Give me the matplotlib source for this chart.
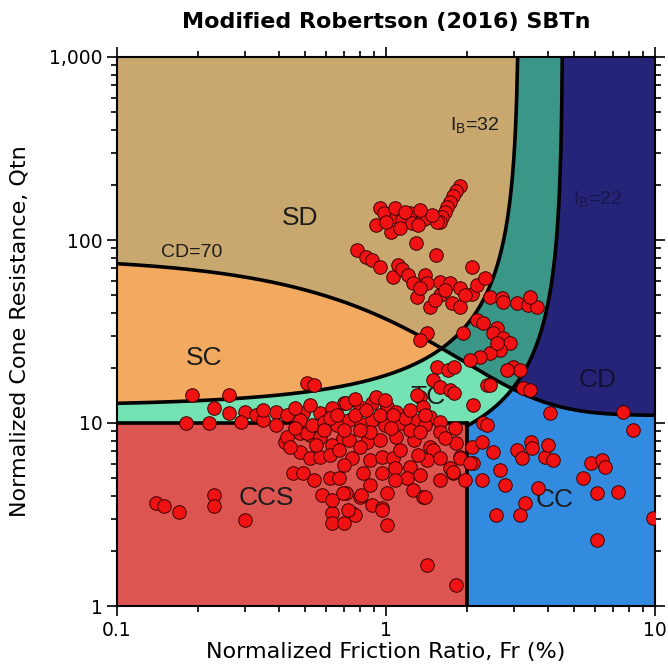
import numpy as np
import matplotlib.pyplot as plt
from matplotlib.colors import ListedColormap, BoundaryNorm
from matplotlib.ticker import FixedLocator, FixedFormatter, NullFormatter

plt.rcParams['font.family'] = 'DejaVu Sans'
plt.rcParams['mathtext.fontset'] = 'custom'
plt.rcParams['mathtext.rm'] = 'Liberation Sans'

# Robertson (2016) boundary values, as labelled on the chart
CD_LIMIT = 70
IB_SAND = 32
IB_CLAY = 22
Q_CCS = 10
FR_CCS = 2

zone_names = ['SD', 'SC', 'TD', 'TC', 'CD', 'CC', 'CCS']
zone_colors = ['#C9A86F', '#F1AA60', '#3A9787', '#74E2B3', '#262479', '#338BE0', '#DC5550']

# CPT data: normalized friction ratio Fr (%) and normalized cone resistance Qtn
fr = [1.88, 1.82, 1.78, 1.73, 1.68, 1.66, 1.61, 1.59, 0.95, 0.98, 1.09, 1.15, 1.23, 1.25,
      1.36, 1.41, 1.55, 0.92, 1.04, 1.13, 1.31, 1.29, 1.54, 2.09,
      1.08, 1.18, 1.48, 1.00, 1.34,
      0.78, 0.84, 0.89, 0.95, 1.06, 1.11, 1.15, 1.21, 1.26, 1.40, 1.42, 1.59, 1.73, 1.88,
      2.09, 2.18, 2.33, 1.30, 1.46, 1.59, 1.76, 1.88, 2.44, 2.70, 3.07, 3.37, 3.64, 3.43,
      1.34, 1.66, 1.97, 1.52,
      2.72, 1.42, 1.34, 1.93, 2.18, 2.29, 2.59, 2.50, 2.72, 2.89, 2.65, 2.44, 2.24, 2.05,
      2.59, 2.97, 3.15, 2.82, 1.55, 1.70, 1.79, 1.50, 1.59, 1.73, 1.79, 1.34, 1.37, 2.38,
      2.10, 1.46, 3.23, 3.43, 4.07, 1.01, 2.29,
      0.51, 0.54, 0.26, 0.19, 0.23, 0.26, 0.30, 0.33, 0.39, 0.43, 0.49, 0.57, 0.63, 0.70,
      0.22, 0.18, 0.42, 0.48, 0.52, 0.57, 0.63, 0.69, 0.48, 0.52, 0.57, 0.62, 0.45, 0.49,
      0.62, 0.67, 0.43, 0.23, 0.23, 0.14, 0.15, 0.17, 0.30,
      0.63, 0.71, 0.80, 0.89, 1.01, 1.09, 0.92, 1.30, 0.51, 0.73, 0.85, 0.95, 1.09, 1.27,
      1.46, 1.50, 1.82, 2.09, 0.75, 0.87, 0.97, 1.06, 1.23, 1.42, 1.73, 1.88, 2.10, 0.82,
      0.97, 1.20, 1.78, 0.71, 0.80, 1.01, 1.26, 1.37, 0.63, 0.75, 0.89, 0.97,
      0.58, 0.63, 0.69, 0.81, 0.97, 1.40, 0.63, 0.70, 0.77, 0.72, 1.01, 1.42, 1.82,
      0.48, 0.53, 0.59, 0.66, 0.73, 0.81, 0.89, 0.99, 1.13, 1.28, 1.40, 1.59, 1.80, 0.46,
      0.70, 0.87, 1.23, 1.59, 0.62, 0.77, 0.95, 1.18, 0.35, 0.39, 0.29,
      0.35, 0.46, 0.52, 0.66, 0.84, 1.06, 1.23, 1.40, 0.77, 0.99,
      0.44, 0.55, 0.59, 0.80, 1.04, 1.34, 1.66, 0.67, 0.80, 1.13, 1.31, 1.59, 0.70, 1.08,
      1.34, 1.59, 0.54, 0.87, 1.08,
      2.44, 2.38, 7.6, 8.3, 2.27, 2.49, 3.07, 3.20, 3.46, 3.49, 3.90, 3.99, 4.18, 1.88,
      2.05, 1.78, 1.97, 2.65, 2.27, 2.77, 5.4, 5.8, 6.35, 6.52, 3.66, 3.29, 3.15, 2.57,
      6.1, 7.3, 9.8, 6.1]
qtn = [197, 185, 174, 162, 152, 142, 133, 125, 149, 140, 133, 129, 140, 124,
       129, 132, 125, 121, 111, 117, 121, 96, 83, 71,
       149, 142, 137, 125, 146,
       88, 81, 78, 71, 63, 73, 69, 64, 58, 64, 58, 59, 58, 55,
       51, 57, 62, 49, 43, 50, 45, 43, 49, 48, 45, 44, 43, 49,
       55, 53, 50, 47,
       46, 31, 28.4, 31, 36.5, 35, 33, 31, 29, 27.4, 25, 24, 23, 22,
       27.4, 20.2, 19.5, 19.5, 20.2, 19.5, 20.2, 17.2, 15.7, 15.1, 14.5, 13.9, 12.3, 16.1,
       12.5, 10.8, 15.5, 15.1, 11.3, 12.2, 10.0,
       16.5, 16.1, 14.2, 14.2, 12.1, 11.3, 11.5, 11.1, 11.5, 11.1, 11.3, 11.3, 11.5, 12.9,
       10.0, 10.0, 7.9, 8.8, 8.6, 8.4, 7.6, 8.3, 6.9, 6.4, 6.5, 6.7, 5.3, 5.3,
       5.0, 5.0, 8.4, 4.04, 3.5, 3.65, 3.5, 3.27, 2.95,
       12.1, 12.9, 12.3, 12.9, 12.3, 11.5, 13.8, 14.2, 8.8, 8.07, 7.9, 8.07, 8.4, 8.07,
       7.4, 7.1, 7.8, 7.4, 6.45, 6.28, 6.5, 6.45, 5.75, 6.28, 5.7, 6.5, 6.05, 5.3,
       5.3, 5.0, 5.3, 4.15, 3.95, 4.15, 4.3, 3.95, 3.22, 3.22, 3.56, 3.43,
       4.04, 3.8, 4.15, 4.04, 3.35, 3.95, 2.84, 2.84, 3.14, 3.35, 2.77, 1.67, 1.30,
       10.4, 9.75, 10.1, 9.75, 10.4, 9.9, 10.4, 9.75, 10.0, 10.4, 9.75, 10.1, 9.4, 9.4,
       9.16, 8.9, 9.16, 8.9, 10.7, 11.1, 11.1, 10.7, 10.4, 9.75, 10.1,
       11.8, 12.1, 12.5, 11.1, 11.8, 11.1, 11.8, 11.1, 13.6, 13.4,
       7.4, 7.6, 9.16, 9.16, 9.4, 8.9, 8.3, 7.12, 7.35, 7.12, 6.69, 6.45, 5.9, 5.7,
       5.2, 4.88, 4.88, 4.58, 4.88,
       16.1, 9.75, 11.5, 9.16, 7.9, 6.9, 7.1, 6.45, 7.9, 7.3, 6.5, 7.6, 6.28, 6.45,
       6.05, 5.4, 4.88, 5.54, 4.88, 4.58, 5.0, 6.05, 6.28, 5.75, 4.42, 3.65, 3.14, 3.14,
       4.15, 4.2, 3.03, 2.29]

x_ticks = [0.1, 1, 10]
x_tick_labels = ['0.1', '1', '10']
y_ticks = [1, 10, 100, 1000]
y_tick_labels = ['1', '10', '100', '1,000']


def cd_curve(f):
    return 11 + CD_LIMIT / (1 + 0.06 * f) ** 17


def ib_curve(f, ib):
    return (70 * ib - 1000) / (100 - ib * f)


fig = plt.figure(figsize=(6.68, 6.71), dpi=100)
ax = fig.add_axes([117 / 668, 65 / 671, 538 / 668, 549 / 671])
ax.set_xscale('log')
ax.set_yscale('log')

# zone map
gf = np.logspace(-1, 1, 700)
gq = np.logspace(0, 3, 700)
F, Q = np.meshgrid(gf, gq)
IB = 100 * (Q + 10) / (Q * F + 70)
CD = (Q - 11) * (1 + 0.06 * F) ** 17
above = CD > CD_LIMIT
zone = np.where(IB > IB_SAND, np.where(above, 0, 1),
                np.where(IB > IB_CLAY, np.where(above, 2, 3), np.where(above, 4, 5)))
zone[(Q < Q_CCS) & (F < FR_CCS)] = 6
cmap = ListedColormap(zone_colors)
norm = BoundaryNorm(np.arange(-0.5, 7.5, 1), cmap.N)
ax.pcolormesh(F, Q, zone, cmap=cmap, norm=norm, shading='auto', rasterized=True, zorder=0)

# boundaries
lw = 2.6
f_all = np.logspace(-1, 1, 400)
ax.plot(f_all, cd_curve(f_all), color='black', lw=lw, zorder=2)
f32_end = (100 - (70 * IB_SAND - 1000) / 1000) / IB_SAND
f32 = np.logspace(-1, np.log10(f32_end), 400)
ax.plot(f32, ib_curve(f32, IB_SAND), color='black', lw=lw, zorder=2)
f22_end = (100 - (70 * IB_CLAY - 1000) / 1000) / IB_CLAY
f22 = np.logspace(np.log10(FR_CCS), np.log10(f22_end), 400)
ax.plot(f22, ib_curve(f22, IB_CLAY), color='black', lw=lw, zorder=2)
ax.plot([0.1, FR_CCS], [Q_CCS, Q_CCS], color='black', lw=lw, zorder=2)
ax.plot([FR_CCS, FR_CCS], [1, Q_CCS], color='black', lw=lw, zorder=2)

# zone labels
lab = dict(family='Liberation Sans', fontsize=19, color='#1c1c1c', ha='center', va='center', zorder=3)
ax.text(0.48, 132, 'SD', **lab)
ax.text(0.21, 22.6, 'SC', **lab)
ax.text(1.43, 13.9, 'TC', **lab)
ax.text(0.36, 3.9, 'CCS', **lab)
ax.text(4.25, 3.8, 'CC', **lab)
ax.text(6.1, 17.2, 'CD', **dict(lab, color='#111133'))
small = dict(family='Liberation Sans', fontsize=14, ha='center', va='center', zorder=3)
ax.text(0.19, 85, 'CD=70', color='#1c1c1c', **small)
ax.text(2.14, 420, r'I$_\mathrm{B}$=32', color='#1c1c1c', **small)
ax.text(6.1, 165, r'I$_\mathrm{B}$=22', color='#17164f', **small)

ax.scatter(fr, qtn, s=95, c='#F01212', edgecolors='#3a0000', linewidths=0.7, zorder=4)

ax.set_xlim(0.1, 10)
ax.set_ylim(1, 1000)
ax.xaxis.set_major_locator(FixedLocator(x_ticks))
ax.xaxis.set_major_formatter(FixedFormatter(x_tick_labels))
ax.yaxis.set_major_locator(FixedLocator(y_ticks))
ax.yaxis.set_major_formatter(FixedFormatter(y_tick_labels))
ax.xaxis.set_minor_formatter(NullFormatter())
ax.yaxis.set_minor_formatter(NullFormatter())
ax.tick_params(which='both', direction='out', top=True, right=True, width=1.2, labelsize=13.5)
ax.tick_params(which='major', length=7)
ax.tick_params(which='minor', length=4.5)
for sp in ax.spines.values():
    sp.set_linewidth(1.5)

ax.set_xlabel('Normalized Friction Ratio, Fr (%)', fontsize=16, labelpad=2)
ax.set_ylabel('Normalized Cone Resistance, Qtn', fontsize=16, labelpad=14)
fig.text(386 / 668, 1 - 22 / 671, 'Modified Robertson (2016) SBTn', ha='center', va='center',
         fontsize=16, weight='bold')

fig.savefig('out.png', dpi=100)
